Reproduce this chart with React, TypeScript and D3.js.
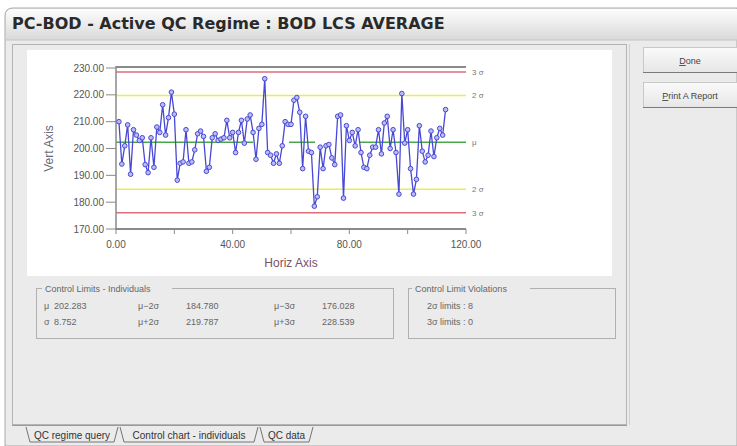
import React from "react";
import * as d3 from "d3";

const values: number[] = [
  210, 194.2, 201, 208.8, 190.4, 207, 205, 203, 204, 194, 191, 204, 193, 208, 206, 216.3, 205, 211.5, 221, 212.8,
  188.2, 194.5, 195, 207, 194.5, 195, 199.5, 205.5, 206.5, 204.5, 191.5, 193, 204, 205.5, 203, 203.5, 204, 210.5, 204, 206,
  198.5, 206, 210.5, 202, 211, 212.5, 206, 196, 207.5, 209, 226, 198.5, 197.5, 194.5, 198, 194.5, 201, 210, 209, 209,
  218, 219, 213.5, 192.5, 212, 199, 198.5, 178.5, 182, 200.5, 192.5, 201, 201.5, 196.5, 194, 212, 212.5, 181.5, 208.5, 203,
  206, 201, 207, 198.5, 193, 192.5, 197.5, 200.5, 200.5, 207, 198, 209.5, 212, 200, 207, 198.5, 183, 220.5, 202, 207,
  192.5, 183, 188.5, 208.5, 199, 195, 197.5, 206.5, 197, 204, 207.5, 205, 214.5,
];
const yTicks: number[] = [170, 180, 190, 200, 210, 220, 230];
const xTicks: number[] = [0, 20, 40, 60, 80, 100, 120];
const xTickLabels: number[] = [0, 40, 80, 120];
const limitValues: number[] = [176.028, 184.78, 202.283, 219.787, 228.539];
const limitNames: string[] = ["3 σ", "2 σ", "μ", "2 σ", "3 σ"];
const limitColors: string[] = ["#dc6e7c", "#ecec52", "#4aa84a", "#ecec52", "#dc6e7c"];
const statRows: string[][] = [
  ["μ", "202.283", "μ−2σ", "184.780", "μ−3σ", "176.028"],
  ["σ", "8.752", "μ+2σ", "219.787", "μ+3σ", "228.539"],
];
const violations: string[] = ["2σ limits : 8", "3σ limits : 0"];
const tabs: string[] = ["QC regime query", "Control chart - individuals", "QC data"];
const buttons: string[] = ["Done", "Print A Report"];

const W = 737;
const H = 446;
const plot = { left: 116, right: 466, top: 68, bottom: 229 };
const sans = "Arial, 'Liberation Sans', sans-serif";

export default function App() {
  const x = d3.scaleLinear().domain([0, 120]).range([plot.left, plot.right]);
  const y = d3.scaleLinear().domain([170, 230]).range([plot.bottom, plot.top]);
  const pts = values.map((v, i) => [x(i + 1), y(v)] as [number, number]);
  const line = d3.line()(pts) || "";
  const rowY = [309, 325];

  return (
    <div style={{ position: "fixed", left: 0, top: 0, width: W, height: H }}>
      <svg width={W} height={H} style={{ display: "block" }}>
        <defs>
          <linearGradient id="tb" x1="0" y1="0" x2="0" y2="1">
            <stop offset="0" stopColor="#fdfdfd" />
            <stop offset="1" stopColor="#d9d9d9" />
          </linearGradient>
          <linearGradient id="btn" x1="0" y1="0" x2="0" y2="1">
            <stop offset="0" stopColor="#fafafa" />
            <stop offset="1" stopColor="#e6e6e6" />
          </linearGradient>
        </defs>
        <rect x={0} y={0} width={W} height={H} fill="#ffffff" />
        {/* window */}
        <path d={`M5,${H} L5,16 Q5,8 13,8 L${W},8 L${W},${H} Z`} fill="#ebebeb" stroke="#a8a8a8" />
        <path d={`M6,40 L6,16 Q6,9 13,9 L${W},9 L${W},40 Z`} fill="url(#tb)" />
        <line x1={6} x2={W} y1={40} y2={40} stroke="#c4c4c4" />
        <text x={12} y={29} fontFamily="'DejaVu Sans', sans-serif" fontWeight="bold" fontSize={16} fill="#2a2a2a">
          PC-BOD - Active QC Regime : BOD LCS AVERAGE
        </text>
        {/* inner panel */}
        <rect x={12.5} y={44.5} width={614} height={380} fill="#ebebeb" stroke="#b4b4b4" />
        <line x1={629.5} x2={629.5} y1={44} y2={425} stroke="#d0d0d0" />
        {/* white chart */}
        <rect x={27} y={50} width={585} height={226} fill="#ffffff" />
        {/* plot frame */}
        <line x1={plot.left} x2={plot.right} y1={plot.top - 1} y2={plot.top - 1} stroke="#8a8a8a" strokeWidth={2} />
        {limitValues.map((v, i) => (
          <g key={"lim" + i}>
            <line
              x1={plot.left}
              x2={plot.right}
              y1={y(v)}
              y2={y(v)}
              stroke={limitColors[i]}
              strokeWidth={1.5}
              strokeDasharray={i === 2 ? "137 36 26 44 200" : undefined}
            />
            <text x={plot.right + 6} y={y(v) + 3} fontFamily={sans} fontSize={8} fill="#777">
              {limitNames[i]}
            </text>
          </g>
        ))}
        <line x1={plot.left} x2={plot.left} y1={plot.top - 2} y2={plot.bottom} stroke="#8a8a8a" strokeWidth={1.5} />
        <line x1={plot.left - 1} x2={plot.right} y1={plot.bottom} y2={plot.bottom} stroke="#8a8a8a" strokeWidth={2} />
        {yTicks.map((t) => (
          <g key={"yt" + t}>
            <line x1={plot.left - 10} x2={plot.left} y1={y(t)} y2={y(t)} stroke="#8a8a8a" />
            <text x={plot.left - 12} y={y(t) + 3.5} textAnchor="end" fontFamily={sans} fontSize={10} fill="#555">
              {t.toFixed(2)}
            </text>
          </g>
        ))}
        {xTicks.map((t) => (
          <line key={"xt" + t} x1={x(t)} x2={x(t)} y1={plot.bottom} y2={plot.bottom + 5} stroke="#8a8a8a" />
        ))}
        {xTickLabels.map((t) => (
          <text key={"xl" + t} x={x(t)} y={248} textAnchor="middle" fontFamily={sans} fontSize={10} fill="#555">
            {t.toFixed(2)}
          </text>
        ))}
        <text x={(plot.left + plot.right) / 2} y={267} textAnchor="middle" fontFamily={sans} fontSize={12} fill="#7a5068">
          Horiz Axis
        </text>
        <text
          transform={`translate(53,${(plot.top + plot.bottom) / 2}) rotate(-90)`}
          textAnchor="middle"
          fontFamily={sans}
          fontSize={12}
          fill="#6a6a7a"
        >
          Vert Axis
        </text>
        {/* data */}
        <path d={line} fill="none" stroke="#4848d6" strokeWidth={1.3} />
        {pts.map((p, i) => (
          <circle key={"pt" + i} cx={p[0]} cy={p[1]} r={2.3} fill="#bcbcf4" stroke="#4848d6" strokeWidth={1} />
        ))}
        {/* control limits box */}
        <rect x={36.5} y={288.5} width={357} height={50} fill="none" stroke="#b0b0b0" />
        <rect x={42} y={283} width={130} height={11} fill="#ebebeb" />
        <text x={45} y={292} fontFamily={sans} fontSize={9} fill="#666">Control Limits - Individuals</text>
        {statRows.map((row, r) => (
          <g key={"sr" + r} fontFamily={sans} fontSize={9} fill="#666">
            <text x={44} y={rowY[r]}>{row[0]}</text>
            <text x={54} y={rowY[r]}>{row[1]}</text>
            <text x={138} y={rowY[r]}>{row[2]}</text>
            <text x={186} y={rowY[r]}>{row[3]}</text>
            <text x={274} y={rowY[r]}>{row[4]}</text>
            <text x={322} y={rowY[r]}>{row[5]}</text>
          </g>
        ))}
        {/* violations box */}
        <rect x={408.5} y={288.5} width={207} height={50} fill="none" stroke="#b0b0b0" />
        <rect x={412} y={283} width={118} height={11} fill="#ebebeb" />
        <text x={415} y={292} fontFamily={sans} fontSize={9} fill="#666">Control Limit Violations</text>
        {violations.map((v, i) => (
          <text key={"v" + i} x={427} y={rowY[i]} fontFamily={sans} fontSize={9} fill="#666">{v}</text>
        ))}
        {/* buttons */}
        {buttons.map((b, i) => (
          <g key={"b" + i}>
            <rect x={643.5} y={47.5 + i * 35} width={100} height={25} fill="url(#btn)" stroke="#c8c8c8" />
            <line x1={643} x2={W} y1={72.5 + i * 35} y2={72.5 + i * 35} stroke="#7a7a7a" />
            <text x={690} y={64 + i * 35} textAnchor="middle" fontFamily={sans} fontSize={9} fill="#444">
              <tspan textDecoration="underline">{b[0]}</tspan>
              {b.slice(1)}
            </text>
          </g>
        ))}
        {/* tabs */}
        <line x1={12} x2={627} y1={425.5} y2={425.5} stroke="#9a9a9a" />
        {tabs.map((t, i) => {
          const xs = [24, 118, 258, 313];
          return (
            <g key={"tab" + i}>
              <path
                d={`M${xs[i] + 2},${427} L${xs[i] + 6},${442} L${xs[i + 1] - 4},${442} L${xs[i + 1]},${427}`}
                fill="none"
                stroke="#555"
                strokeWidth={0.8}
              />
              <text x={(xs[i] + xs[i + 1]) / 2 + 1} y={439} textAnchor="middle" fontFamily={sans} fontSize={10} fill="#333">
                {t}
              </text>
            </g>
          );
        })}
      </svg>
    </div>
  );
}
